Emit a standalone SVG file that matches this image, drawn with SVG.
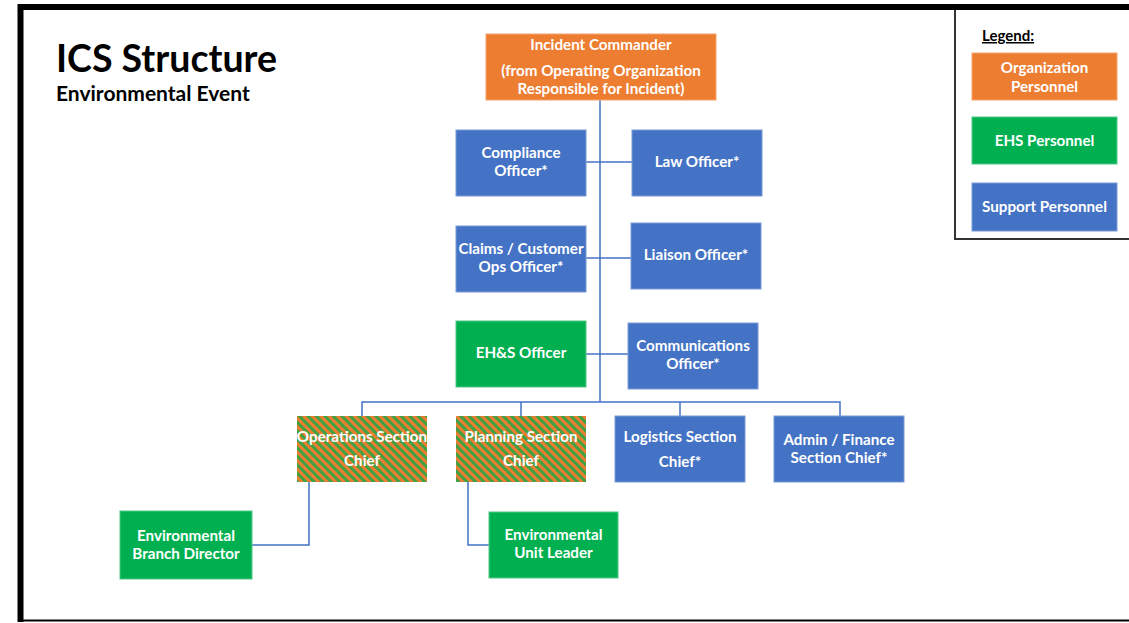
<svg xmlns="http://www.w3.org/2000/svg" width="1129" height="623" viewBox="0 0 1129 623">
<defs>
<pattern id="hatch" width="6" height="6" patternUnits="userSpaceOnUse" patternTransform="rotate(-45)">
<rect width="6" height="6" fill="#ED7D31"/>
<rect width="3" height="6" fill="#3FA141"/>
</pattern>
<style>
.t{font-family:Lato,"Liberation Sans",sans-serif;font-weight:bold;font-size:15.2px;fill:#fff;text-anchor:middle}
.org{fill:#ED7D31;stroke:#F4A26E;stroke-width:1}
.ehs{fill:#00B050;stroke:#4DC986;stroke-width:1}
.sup{fill:#4472C4;stroke:#7A9BD6;stroke-width:1}
.hat{fill:url(#hatch)}
.c{fill:none;stroke:#4472C4;stroke-width:1.5}
</style>
</defs>
<rect width="1129" height="623" fill="#fff"/>
<!-- frame -->
<path d="M20.5,622 V7 H1129" fill="none" stroke="#000" stroke-width="6"/>
<line x1="20" y1="620.5" x2="1129" y2="620.5" stroke="#000" stroke-width="2"/>
<!-- title -->
<text x="56" y="72" font-family="Lato,'Liberation Sans',sans-serif" font-weight="bold" font-size="37.5" fill="#000">ICS Structure</text>
<text x="56" y="101" font-family="Lato,'Liberation Sans',sans-serif" font-weight="bold" font-size="21" fill="#000">Environmental Event</text>
<!-- legend -->
<g id="legend">
<path d="M955,10 V239 H1129" fill="none" stroke="#333" stroke-width="2"/>
<text x="982" y="41" font-family="Lato,'Liberation Sans',sans-serif" font-weight="bold" font-size="15" fill="#000" text-decoration="underline">Legend:</text>
<rect class="org" x="972" y="53" width="145" height="47"/>
<text class="t" x="1044.5" y="73">Organization</text>
<text class="t" x="1044.5" y="92">Personnel</text>
<rect class="ehs" x="972" y="117" width="145" height="47"/>
<text class="t" x="1044.5" y="146">EHS Personnel</text>
<rect class="sup" x="972" y="183" width="145" height="48"/>
<text class="t" x="1044.5" y="212">Support Personnel</text>
</g>
<!-- connectors -->
<g id="connectors">
<line class="c" x1="600" y1="100" x2="600" y2="402"/>
<line class="c" x1="586" y1="162" x2="632" y2="162"/>
<line class="c" x1="586" y1="258" x2="631" y2="258"/>
<line class="c" x1="586" y1="354" x2="628" y2="354"/>
<path class="c" d="M362,416 V402 H840 V416"/>
<line class="c" x1="521" y1="402" x2="521" y2="416"/>
<line class="c" x1="680" y1="402" x2="680" y2="416"/>
<path class="c" d="M309,482 V545 H252"/>
<path class="c" d="M468,482 V545 H489"/>
</g>
<g id="incident-commander">
<rect class="org" x="486" y="34" width="230" height="66"/>
<text class="t" x="601" y="50">Incident Commander</text>
<text class="t" x="601" y="76">(from Operating Organization</text>
<text class="t" x="601" y="94">Responsible for Incident)</text>
</g>
<g id="compliance">
<rect class="sup" x="456" y="130" width="130" height="66"/>
<text class="t" x="521" y="158">Compliance</text>
<text class="t" x="521" y="176">Officer*</text>
</g>
<g id="law">
<rect class="sup" x="632" y="130" width="130" height="66"/>
<text class="t" x="697" y="167">Law Officer*</text>
</g>
<g id="claims">
<rect class="sup" x="456" y="226" width="130" height="66"/>
<text class="t" x="521" y="254">Claims / Customer</text>
<text class="t" x="521" y="272">Ops Officer*</text>
</g>
<g id="liaison">
<rect class="sup" x="631" y="223" width="130" height="66"/>
<text class="t" x="696" y="260">Liaison Officer*</text>
</g>
<g id="ehs-officer">
<rect class="ehs" x="456" y="321" width="130" height="66"/>
<text class="t" x="521" y="358">EH&amp;S Officer</text>
</g>
<g id="communications">
<rect class="sup" x="628" y="323" width="130" height="66"/>
<text class="t" x="693" y="351">Communications</text>
<text class="t" x="693" y="369">Officer*</text>
</g>
<g id="operations">
<rect class="hat" x="297" y="416" width="130" height="66"/>
<text class="t" x="362" y="442">Operations Section</text>
<text class="t" x="362" y="466">Chief</text>
</g>
<g id="planning">
<rect class="hat" x="456" y="416" width="130" height="66"/>
<text class="t" x="521" y="442">Planning Section</text>
<text class="t" x="521" y="466">Chief</text>
</g>
<g id="logistics">
<rect class="sup" x="615" y="416" width="130" height="66"/>
<text class="t" x="680" y="442">Logistics Section</text>
<text class="t" x="680" y="467">Chief*</text>
</g>
<g id="admin-finance">
<rect class="sup" x="774" y="416" width="130" height="66"/>
<text class="t" x="839" y="445">Admin / Finance</text>
<text class="t" x="839" y="463">Section Chief*</text>
</g>
<g id="env-branch-director">
<rect class="ehs" x="120" y="511" width="132" height="68"/>
<text class="t" x="186" y="541">Environmental</text>
<text class="t" x="186" y="559">Branch Director</text>
</g>
<g id="env-unit-leader">
<rect class="ehs" x="489" y="512" width="129" height="66"/>
<text class="t" x="553.5" y="540">Environmental</text>
<text class="t" x="553.5" y="558">Unit Leader</text>
</g>
</svg>
